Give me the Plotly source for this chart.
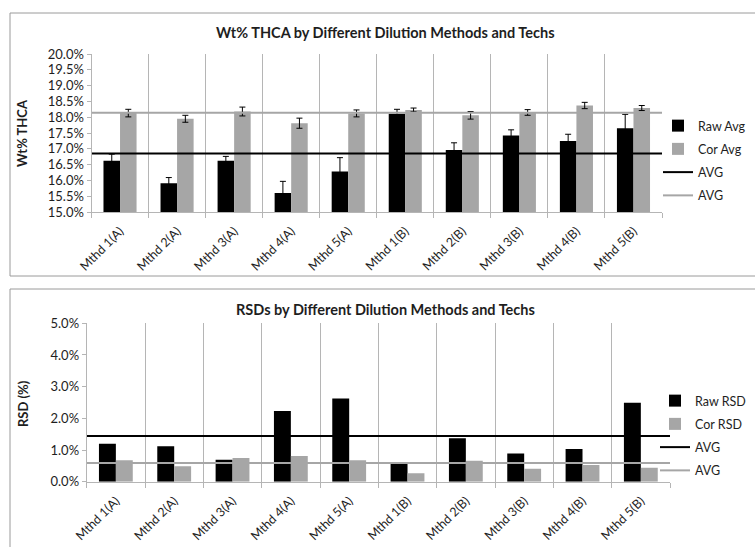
import plotly.graph_objects as go

# ---------------- data ----------------
categories = ["Mthd 1(A)", "Mthd 2(A)", "Mthd 3(A)", "Mthd 4(A)", "Mthd 5(A)",
              "Mthd 1(B)", "Mthd 2(B)", "Mthd 3(B)", "Mthd 4(B)", "Mthd 5(B)"]

raw_avg = [16.62, 15.91, 16.62, 15.60, 16.28, 18.11, 16.96, 17.42, 17.25, 17.65]
raw_avg_err = [0.21, 0.18, 0.14, 0.37, 0.44, 0.14, 0.23, 0.18, 0.21, 0.44]
cor_avg = [18.13, 17.95, 18.18, 17.81, 18.12, 18.23, 18.06, 18.15, 18.37, 18.29]
cor_avg_err = [0.12, 0.11, 0.14, 0.16, 0.11, 0.06, 0.12, 0.09, 0.10, 0.08]
avg_raw_wt = 16.85
avg_cor_wt = 18.14

raw_rsd = [1.20, 1.12, 0.69, 2.23, 2.63, 0.56, 1.37, 0.89, 1.03, 2.49]
cor_rsd = [0.68, 0.49, 0.75, 0.81, 0.68, 0.27, 0.66, 0.41, 0.53, 0.44]
avg_raw_rsd = 1.44
avg_cor_rsd = 0.59

title_top = "Wt% THCA by Different Dilution Methods and Techs"
title_bot = "RSDs by Different Dilution Methods and Techs"

# ---------------- layout helpers ----------------
W, H = 755, 547
def px(x):
    return x / W
def py(y):
    return 1 - y / H

FONT = "Lato"
BLACK = "#000000"
GRAY = "#a6a6a6"
GRID = "#b5b5b5"
TXT = "#1e1e1e"

n = len(categories)
centers = [i + 0.5 for i in range(n)]
span = [0, n]

fig = go.Figure()

# top chart
fig.add_trace(go.Bar(x=centers, y=raw_avg, name="Raw Avg", marker=dict(color=BLACK, line=dict(width=0)),
                     error_y=dict(type="data", array=raw_avg_err, color=BLACK, thickness=1, width=3),
                     xaxis="x", yaxis="y", legend="legend", legendgroup="a"))
fig.add_trace(go.Bar(x=centers, y=cor_avg, name="Cor Avg", marker=dict(color=GRAY, line=dict(width=0)),
                     error_y=dict(type="data", array=cor_avg_err, color=BLACK, thickness=1, width=3),
                     xaxis="x", yaxis="y", legend="legend", legendgroup="b"))
fig.add_trace(go.Scatter(x=span, y=[avg_raw_wt] * 2, mode="lines", name="AVG",
                         line=dict(color=BLACK, width=2), xaxis="x", yaxis="y", legend="legend", legendgroup="c"))
fig.add_trace(go.Scatter(x=span, y=[avg_cor_wt] * 2, mode="lines", name="AVG",
                         line=dict(color=GRAY, width=2), xaxis="x", yaxis="y", legend="legend", legendgroup="d"))

# bottom chart
fig.add_trace(go.Bar(x=centers, y=raw_rsd, name="Raw RSD", marker=dict(color=BLACK, line=dict(width=0)),
                     xaxis="x2", yaxis="y2", legend="legend2", legendgroup="e"))
fig.add_trace(go.Bar(x=centers, y=cor_rsd, name="Cor RSD", marker=dict(color=GRAY, line=dict(width=0)),
                     xaxis="x2", yaxis="y2", legend="legend2", legendgroup="f"))
fig.add_trace(go.Scatter(x=span, y=[avg_raw_rsd] * 2, mode="lines", name="AVG",
                         line=dict(color=BLACK, width=2), xaxis="x2", yaxis="y2", legend="legend2", legendgroup="g"))
fig.add_trace(go.Scatter(x=span, y=[avg_cor_rsd] * 2, mode="lines", name="AVG",
                         line=dict(color=GRAY, width=2), xaxis="x2", yaxis="y2", legend="legend2", legendgroup="h"))

def xaxis_cfg(domain, anchor):
    return dict(domain=domain, anchor=anchor, range=span, tickmode="array",
                tickvals=centers, ticktext=categories, tickangle=-45, automargin=False,
                ticks="outside", ticklen=6, tickcolor="rgba(0,0,0,0)",
                showgrid=False, zeroline=False, showline=True, linecolor=GRID, linewidth=1,
                tickfont=dict(family=FONT, size=12.5, color=TXT),
                minor=dict(tickmode="array", tickvals=list(range(n + 1)), showgrid=True,
                           gridcolor=GRID, gridwidth=1, ticks="outside", ticklen=5,
                           tickcolor=GRID, tickwidth=1),
                fixedrange=True)

def yaxis_cfg(domain, anchor, rng, dtick):
    return dict(domain=domain, anchor=anchor, range=rng, tickmode="linear", automargin=False,
                tick0=rng[0], dtick=dtick, tickformat=".1f", ticksuffix="%",
                ticks="outside", ticklen=4, tickcolor=GRID, showgrid=False, zeroline=False,
                showline=True, linecolor=GRID, linewidth=1,
                tickfont=dict(family=FONT, size=13, color=TXT), fixedrange=True)

legend_common = dict(xanchor="left", yanchor="top", font=dict(family=FONT, size=12.5, color=TXT),
                     bgcolor="rgba(0,0,0,0)", traceorder="grouped", tracegroupgap=4,
                     itemclick=False, itemdoubleclick=False)

fig.update_layout(
    width=W, height=H,
    margin=dict(l=0, r=0, t=0, b=0, autoexpand=False),
    paper_bgcolor="white", plot_bgcolor="white",
    barmode="group", bargap=0.42, bargroupgap=0,
    showlegend=True,
    xaxis=xaxis_cfg([px(91.5), px(662)], "y"),
    yaxis=yaxis_cfg([py(212), py(54)], "x", [15, 20], 0.5),
    xaxis2=xaxis_cfg([px(86.7), px(670)], "y2"),
    yaxis2=yaxis_cfg([py(481.7), py(323.3)], "x2", [0, 5], 1),
    legend=dict(x=px(658), y=py(111), **legend_common),
    legend2=dict(x=px(655), y=py(386), **legend_common),
    shapes=[
        dict(type="rect", xref="paper", yref="paper", x0=px(10), x1=1.05, y0=py(276), y1=py(13),
             line=dict(color="#9a9a9a", width=1), fillcolor="rgba(0,0,0,0)", layer="below"),
        dict(type="rect", xref="paper", yref="paper", x0=px(10), x1=1.05, y0=py(600), y1=py(289),
             line=dict(color="#9a9a9a", width=1), fillcolor="rgba(0,0,0,0)", layer="below"),
    ],
    annotations=[
        dict(text="<b>" + title_top + "</b>", xref="paper", yref="paper", x=px(385), y=py(33),
             showarrow=False, font=dict(family=FONT, size=14.5, color=TXT), xanchor="center", yanchor="middle"),
        dict(text="<b>" + title_bot + "</b>", xref="paper", yref="paper", x=px(385), y=py(309),
             showarrow=False, font=dict(family=FONT, size=14.5, color=TXT), xanchor="center", yanchor="middle"),
        dict(text="<b>Wt% THCA</b>", xref="paper", yref="paper", x=px(22), y=py(133), textangle=-90,
             showarrow=False, font=dict(family=FONT, size=13, color=TXT), xanchor="center", yanchor="middle"),
        dict(text="<b>RSD (%)</b>", xref="paper", yref="paper", x=px(23), y=py(404), textangle=-90,
             showarrow=False, font=dict(family=FONT, size=13, color=TXT), xanchor="center", yanchor="middle"),
    ],
)

fig.write_html("out.html", config={"displayModeBar": False},
               post_script="document.body.style.margin='0';document.body.style.overflow='hidden';")
